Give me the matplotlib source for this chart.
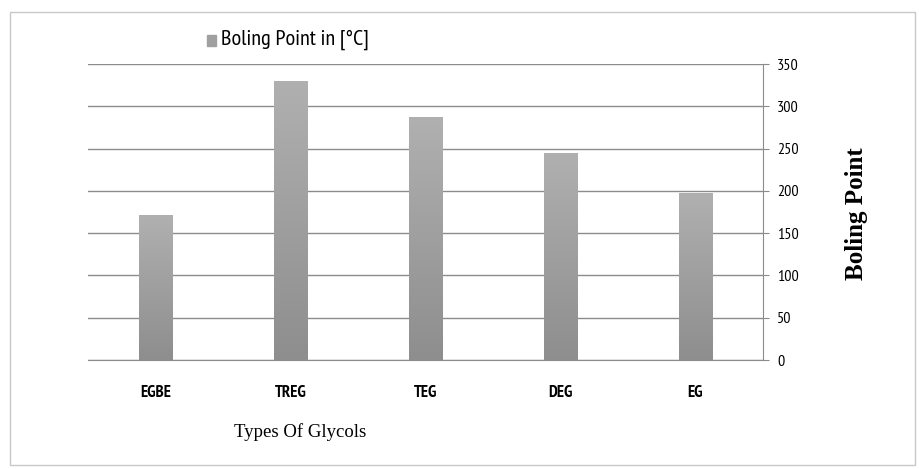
import numpy as np
import matplotlib.pyplot as plt
from matplotlib.colors import LinearSegmentedColormap
from matplotlib.patches import Rectangle

glycols = ["EGBE", "TREG", "TEG", "DEG", "EG"]
boiling_point = [171, 330, 287, 245, 197]
y_ticks = [0, 50, 100, 150, 200, 250, 300, 350]

narrow = ["PT Sans Narrow", "DejaVu Sans"]
serif = ["Liberation Serif", "DejaVu Serif"]

fig = plt.figure(figsize=(9.19, 4.69), dpi=100)
ax = fig.add_axes([88 / 919, 109 / 469, 675 / 919, 296 / 469])

x = np.arange(len(glycols))
bars = ax.bar(x, boiling_point, width=0.25, color="#a0a0a0", zorder=3)

# vertical gradient on each bar (lighter top, darker bottom)
bar_cmap = LinearSegmentedColormap.from_list("bar", ["#8e8e8e", "#b0b0b0"])
grad = np.linspace(0, 1, 256).reshape(-1, 1)
for b in bars:
    x0, y0 = b.get_x(), b.get_y()
    w, h = b.get_width(), b.get_height()
    im = ax.imshow(grad, cmap=bar_cmap, aspect="auto",
                   extent=(x0, x0 + w, y0, y0 + h), origin="lower", zorder=4)
    im.set_clip_path(b)

ax.set_xlim(-0.5, len(glycols) - 0.5)
ax.set_ylim(0, 350)
ax.set_yticks(y_ticks)
ax.yaxis.tick_right()
ax.grid(axis="y", color="#8c8c8c", linewidth=1.0, zorder=0)
ax.set_axisbelow(True)

for s in ["top", "left"]:
    ax.spines[s].set_visible(False)
ax.spines["right"].set_color("#8c8c8c")
ax.spines["bottom"].set_color("#8c8c8c")

ax.tick_params(axis="y", direction="out", length=4, color="#8c8c8c", pad=6)
ax.tick_params(axis="x", length=0, pad=18)
ax.set_xticks(x)
ax.set_xticklabels(glycols, family=narrow, fontweight="bold", fontsize=12)
for t in ax.get_yticklabels():
    t.set_family(narrow)
    t.set_fontsize(11.5)

fig.text(300 / 919, 1 - 432 / 469, "Types Of Glycols", family=serif,
         fontsize=13.5, ha="center", va="center")
fig.text(856 / 919, 1 - 214 / 469, "Boling Point", family=serif,
         fontweight="bold", fontsize=18, rotation=90, ha="center", va="center")

# legend
fig.patches.append(Rectangle((207 / 919, 1 - 46 / 469), 9 / 919, 11 / 469,
                             transform=fig.transFigure, color="#a0a0a0"))
fig.text(221 / 919, 1 - 40 / 469, "Boling Point in [°C]", family=narrow,
         fontsize=16, ha="left", va="center")

# outer frame
fig.patches.append(Rectangle((10 / 919, 4 / 469), 905 / 919, 453 / 469,
                             transform=fig.transFigure, fill=False,
                             edgecolor="#c8c8c8", linewidth=1))

fig.savefig("out.png", dpi=100)
